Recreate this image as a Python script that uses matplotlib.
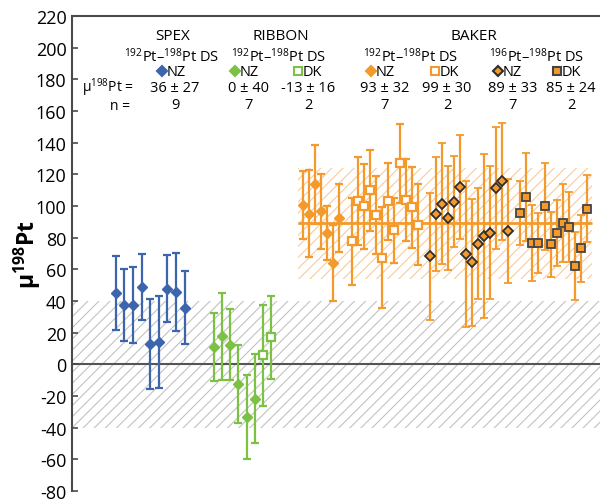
import matplotlib
matplotlib.use('Agg')
import matplotlib.pyplot as plt
import numpy as np

plt.rcParams['font.family'] = ['Open Sans', 'DejaVu Sans']
plt.rcParams['mathtext.fontset'] = 'custom'
plt.rcParams['mathtext.rm'] = 'Open Sans'
plt.rcParams['mathtext.bf'] = 'Open Sans:bold'
plt.rcParams['mathtext.it'] = 'Open Sans:italic'
plt.rcParams['axes.unicode_minus'] = False
plt.rcParams['hatch.linewidth'] = 0.8

# ---- data (mu198Pt and 2SE) ----
spex_nz = [45, 37.5, 37.5, 49, 13, 14.3, 47.8, 45.7, 35.8]
spex_nz_err = [23.5, 22.5, 24, 21, 28.5, 29, 21, 24.6, 23]

ribbon_nz = [11, 17.8, 12.4, -12.4, -33.3, -21.6]
ribbon_nz_err = [21.5, 27.5, 22.5, 24.6, 26.5, 28.4]
ribbon_dk = [5.7, 17]
ribbon_dk_err = [32, 26.4]

baker192_nz = [100.4, 95.2, 113.6, 96.6, 82.8, 63.7, 92.4]
baker192_nz_err = [21.5, 27.5, 25, 23.5, 17, 24, 21.3]
baker192_dk = [77.6, 103.3, 99.8, 110, 94.3, 67.3, 103, 84.7, 127, 104, 99.2, 88.2]
baker192_dk_err = [27.5, 27.7, 27, 25.7, 24.6, 32, 24.3, 20.5, 25, 26, 25.6, 25.6]
baker196_nz = [68.3, 95.2, 101.5, 92.4, 102.7, 112, 69.6, 64.4, 76.3, 81.1,
               83.2, 111.5, 115.5, 84.3]
baker196_nz_err = [40, 36, 38, 32.7, 28.6, 33, 46, 40, 35, 52, 42, 38.5, 37, 33]
baker196_dk = [95.6, 105.7, 76.7, 76.7, 99.8, 75.9, 83, 89.3, 86.8, 62, 73.2, 98.3]
baker196_dk_err = [20.3, 27.6, 24, 19, 27.5, 20.5, 21, 24.6, 22.3, 21.5, 21, 21]

baker_mean, baker_2sd = 89, 35
terr_band = 40

# header summaries
summ_mean = [36, 0, -13, 93, 99, 89, 85]
summ_sd = [27, 40, 16, 32, 30, 33, 24]
summ_n = [9, 7, 2, 7, 2, 7, 2]

blue = '#3D65AE'
green = '#7BC143'
orange = '#F49A2C'
dark = '#2E2E2E'

# ---- positions ----
spex_x = 115.7 + 8.6 * np.arange(len(spex_nz))
rib_x = 213.7 + 8.2 * np.arange(len(ribbon_nz) + len(ribbon_dk))
step = 6.03
b0 = 303.3
n1, n2, n3 = len(baker192_nz), len(baker192_dk), len(baker196_nz)
bk1_x = b0 + step * np.arange(n1)
bk2_x = b0 + step * (n1 + 1 + np.arange(n2))
bk3_x = b0 + step * (n1 + n2 + 2 + np.arange(n3))
bk4_x = b0 + step * (n1 + n2 + n3 + 3 + np.arange(len(baker196_dk)))

fig = plt.figure(figsize=(6, 5.02), dpi=100)
ax = fig.add_axes([0.12, 0.02, 0.88, 0.946])
ax.set_xlim(72, 600)
ax.set_ylim(-80, 220)

# bands
ax.axhspan(-terr_band, terr_band, facecolor='none', edgecolor='#C2C2C2',
           hatch='///', lw=0, zorder=0)
bx = [bk1_x[0] - 5, bk4_x[-1] + 5]
ax.fill_between(bx, baker_mean - baker_2sd, baker_mean + baker_2sd,
                facecolor='none', edgecolor='#F8CB9C', hatch='///', lw=0, zorder=0)
ax.axhline(0, color='#555555', lw=1.5, zorder=1)
ax.hlines(baker_mean, bx[0], bx[1], color=orange, lw=2, zorder=1)

dm, sm = 5.5, 6
eb = dict(elinewidth=1.6, capsize=3, capthick=1.6, zorder=3, ls='none')
ax.errorbar(spex_x, spex_nz, yerr=spex_nz_err, fmt='D', color=blue, ms=dm, **eb)
ax.errorbar(rib_x[:len(ribbon_nz)], ribbon_nz, yerr=ribbon_nz_err, fmt='D',
            color=green, ms=dm, **eb)
ax.errorbar(rib_x[len(ribbon_nz):], ribbon_dk, yerr=ribbon_dk_err, fmt='s',
            color=green, mfc='white', mew=1.6, ms=sm, **eb)
ax.errorbar(bk1_x, baker192_nz, yerr=baker192_nz_err, fmt='D', color=orange, ms=dm, **eb)
ax.errorbar(bk2_x, baker192_dk, yerr=baker192_dk_err, fmt='s', color=orange,
            mfc='white', mew=1.6, ms=sm, **eb)
ax.errorbar(bk3_x, baker196_nz, yerr=baker196_nz_err, fmt='D', color=orange,
            mec=dark, mew=1.3, ms=dm, **eb)
ax.errorbar(bk4_x, baker196_dk, yerr=baker196_dk_err, fmt='s', color=orange,
            mec='#444444', mew=1.3, ms=sm, **eb)

# ---- header ----
fs = 10.5
for name, xc in [('SPEX', 173), ('RIBBON', 281), ('BAKER', 474)]:
    ax.text(xc, 207.8, name, ha='center', va='center', fontsize=11)
for iso, xc in [('192', 172), ('192', 279), ('192', 411), ('196', 537)]:
    ax.text(xc, 195.2, r'$^{%s}$Pt–$^{198}$Pt DS' % iso, ha='center', va='center',
            fontsize=fs)

legend_items = [
    (162, 'D', blue, blue, 'NZ'),
    (235, 'D', green, green, 'NZ'),
    (298, 's', 'white', green, 'DK'),
    (371, 'D', orange, orange, 'NZ'),
    (435, 's', 'white', orange, 'DK'),
    (498, 'D', orange, dark, 'NZ'),
    (557, 's', orange, '#444444', 'DK'),
]
for xm, mk, fc, ec, lab in legend_items:
    ax.plot(xm, 185.2, marker=mk, ms=dm if mk == 'D' else sm, mfc=fc, mec=ec,
            mew=1.5, ls='none', clip_on=False, zorder=4)
    ax.text(xm + 5, 185.2, lab, ha='left', va='center', fontsize=fs)

stat_x = [175, 249, 308, 385, 447, 512.7, 571]
for xc, m, s, n in zip(stat_x, summ_mean, summ_sd, summ_n):
    ax.text(xc, 175, f'{m} ± {s}', ha='center', va='center', fontsize=fs)
    ax.text(xc, 164, f'{n}', ha='center', va='center', fontsize=fs)
ax.text(134, 175.5, r'μ$^{198}$Pt =', ha='right', va='center', fontsize=10)
ax.text(130, 163.5, 'n =', ha='right', va='center', fontsize=10)

# ---- axes styling ----
for s in ['right', 'bottom']:
    ax.spines[s].set_visible(False)
for s in ['left', 'top']:
    ax.spines[s].set_color('#4A4A4A')
    ax.spines[s].set_linewidth(1.5)
ax.set_xticks([])
ax.set_yticks(np.arange(-80, 221, 20))
ax.tick_params(axis='y', direction='in', length=4, width=1.2, color='#4A4A4A',
               labelsize=13, pad=4)

fig.text(0.045, 0.492, r'μ$^{\mathbf{198}}$Pt', rotation=90, ha='center',
         va='center', fontsize=16.5, fontweight='bold')

fig.savefig('out.png', dpi=100)
